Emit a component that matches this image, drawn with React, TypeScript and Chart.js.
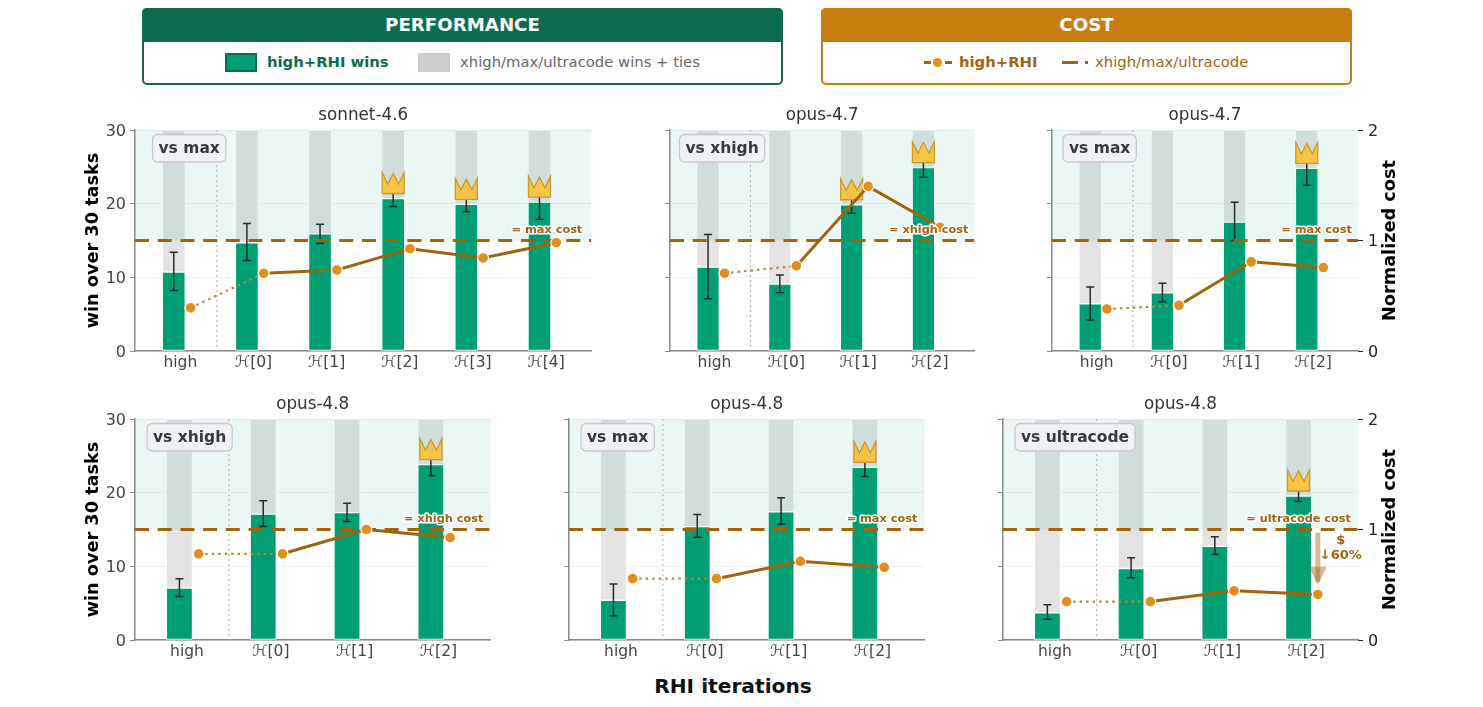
import React, { useEffect, useRef } from 'react';
import { Chart, registerables } from 'chart.js';
Chart.register(...registerables);

Chart.defaults.font.family = '"DejaVu Sans", sans-serif';

// values
const sonnetLabels = ['high', 'ℋ[0]', 'ℋ[1]', 'ℋ[2]', 'ℋ[3]', 'ℋ[4]'];
const opusLabels = ['high', 'ℋ[0]', 'ℋ[1]', 'ℋ[2]'];

const sonnetMaxWins = [10.7, 14.7, 15.9, 20.7, 19.9, 20.2];
const sonnetMaxErrLow = [8.2, 12.3, 14.6, 19.6, 18.9, 17.9];
const sonnetMaxErrHigh = [13.4, 17.3, 17.2, 21.8, 20.9, 22.5];
const sonnetMaxCost = [0.39, 0.703, 0.733, 0.926, 0.842, 0.98];
const sonnetMaxCrowns = [3, 4, 5];

const opus47XhighWins = [11.4, 9.1, 19.85, 24.9];
const opus47XhighErrLow = [7.1, 7.9, 18.7, 23.6];
const opus47XhighErrHigh = [15.8, 10.3, 21, 26.2];
const opus47XhighCost = [0.704, 0.77, 1.49, 1.12];
const opus47XhighCrowns = [2, 3];

const opus47MaxWins = [6.4, 7.9, 17.5, 24.8];
const opus47MaxErrLow = [4.2, 6.7, 15, 22.5];
const opus47MaxErrHigh = [8.7, 9.2, 20.2, 27.1];
const opus47MaxCost = [0.38, 0.414, 0.807, 0.755];
const opus47MaxCrowns = [3];

const opus48XhighWins = [7.05, 17.1, 17.3, 23.8];
const opus48XhighErrLow = [5.9, 15.4, 16.1, 22.3];
const opus48XhighErrHigh = [8.3, 18.9, 18.55, 25.3];
const opus48XhighCost = [0.78, 0.78, 1.0, 0.927];
const opus48XhighCrowns = [3];

const opus48MaxWins = [5.4, 15.4, 17.4, 23.45];
const opus48MaxErrLow = [3.3, 13.95, 15.7, 22.2];
const opus48MaxErrHigh = [7.6, 17.05, 19.3, 24.7];
const opus48MaxCost = [0.555, 0.555, 0.712, 0.658];
const opus48MaxCrowns = [3];

const opus48UltraWins = [3.7, 9.7, 12.7, 19.55];
const opus48UltraErrLow = [2.8, 8.45, 11.6, 18.8];
const opus48UltraErrHigh = [4.8, 11.15, 14, 20.3];
const opus48UltraCost = [0.348, 0.348, 0.445, 0.412];
const opus48UltraCrowns = [3];

const GREEN = '#009e73';
const DARK_GREEN = '#0d6b50';
const GOLD = '#c77d0e';
const BROWN = '#a0640f';
const ORANGE = '#e08e1e';

const TOP_ROW = 130;
const BOTTOM_ROW = 419;
const AREA_HEIGHT = 221;
const MARGIN_LEFT = 60;
const MARGIN_RIGHT = 60;
const MARGIN_TOP = 28;
const MARGIN_BOTTOM = 32;

const BAR_OFFSET = -0.09;
const COST_OFFSET = 0.14;
const X_PAD = 0.62;

interface PanelProps {
  title: string;
  badge: string;
  refName: string;
  labels: string[];
  wins: number[];
  errLow: number[];
  errHigh: number[];
  cost: number[];
  crowns: number[];
  left: number;
  top: number;
  width: number;
  badgeLeft: number;
  leftLabels?: boolean;
  rightAxis?: boolean;
  saving?: { from: number; to: number; text: string };
}

const Panel: React.FC<PanelProps> = (p) => {
  const canvasRef = useRef<HTMLCanvasElement>(null);
  // the extra 7px keeps the plot width right when the cost axis is hidden
  const canvasWidth = MARGIN_LEFT + p.width + (p.rightAxis ? MARGIN_RIGHT : 7);
  const canvasHeight = MARGIN_TOP + AREA_HEIGHT + MARGIN_BOTTOM;

  useEffect(() => {
    if (!canvasRef.current) return;
    const xMin = -X_PAD;
    const xMax = p.labels.length - 1 + X_PAD;
    const barWidth = (0.3 * p.width) / (xMax - xMin) + 1;

    const panelDecor = {
      id: 'panelDecor',
      // the band sits over the grey bars but under the green ones
      beforeDatasetDraw(chart: any, args: any) {
        if (args.index !== 1) return;
        const { ctx, chartArea, scales } = chart;
        const y15 = scales.y.getPixelForValue(15);
        ctx.save();
        ctx.fillStyle = 'rgba(0, 158, 115, 0.08)';
        ctx.fillRect(chartArea.left, chartArea.top, chartArea.width, y15 - chartArea.top);
        const sepX = scales.x.getPixelForValue(0.5);
        ctx.strokeStyle = '#aaaaaa';
        ctx.lineWidth = 1;
        ctx.setLineDash([2, 3]);
        ctx.beginPath();
        ctx.moveTo(sepX, chartArea.top);
        ctx.lineTo(sepX, chartArea.bottom);
        ctx.stroke();
        ctx.restore();
      },
      afterDatasetDraw(chart: any, args: any) {
        if (args.index !== 1) return;
        const { ctx, scales } = chart;
        ctx.save();
        p.wins.forEach((_, i) => {
          const x = scales.x.getPixelForValue(i + BAR_OFFSET);
          const lo = scales.y.getPixelForValue(p.errLow[i]);
          const hi = scales.y.getPixelForValue(p.errHigh[i]);
          ctx.strokeStyle = '#2b2b2b';
          ctx.lineWidth = 1.5;
          ctx.beginPath();
          ctx.moveTo(x, lo);
          ctx.lineTo(x, hi);
          ctx.moveTo(x - 4, lo);
          ctx.lineTo(x + 4, lo);
          ctx.moveTo(x - 4, hi);
          ctx.lineTo(x + 4, hi);
          ctx.stroke();
        });
        p.crowns.forEach((i) => {
          const x = scales.x.getPixelForValue(i + BAR_OFFSET);
          const b = scales.y.getPixelForValue(p.wins[i]) - 5;
          ctx.fillStyle = '#f6c544';
          ctx.strokeStyle = '#c99a2e';
          ctx.lineWidth = 1.3;
          ctx.beginPath();
          ctx.moveTo(x - 11, b);
          ctx.lineTo(x - 11, b - 21);
          ctx.lineTo(x - 5.5, b - 9.5);
          ctx.lineTo(x, b - 20);
          ctx.lineTo(x + 5.5, b - 9.5);
          ctx.lineTo(x + 11, b - 21);
          ctx.lineTo(x + 11, b);
          ctx.closePath();
          ctx.fill();
          ctx.stroke();
        });
        ctx.restore();
      },
      afterDatasetsDraw(chart: any) {
        const { ctx, chartArea, scales } = chart;
        ctx.save();

        // saving arrow
        if (p.saving) {
          const x = scales.x.getPixelForValue(p.labels.length - 1 + COST_OFFSET);
          const y0 = scales.y2.getPixelForValue(p.saving.from);
          const y1 = scales.y2.getPixelForValue(p.saving.to);
          ctx.fillStyle = 'rgba(165, 101, 15, 0.45)';
          ctx.fillRect(x - 2.5, y0, 5, y1 - y0 - 3);
          ctx.beginPath();
          ctx.moveTo(x - 9, y1 - 18);
          ctx.lineTo(x + 9, y1 - 18);
          ctx.lineTo(x, y1);
          ctx.closePath();
          ctx.fill();
          ctx.fillStyle = BROWN;
          ctx.font = 'bold 13px "DejaVu Sans"';
          ctx.textAlign = 'center';
          ctx.textBaseline = 'middle';
          ctx.fillText('$', x + 23, y0 + 8);
          ctx.fillText(p.saving.text, x + 23, y0 + 23);
        }

        // reference line label
        const labelText = `= ${p.refName} cost`;
        ctx.font = 'bold 11.3px "DejaVu Sans"';
        ctx.textAlign = 'right';
        ctx.textBaseline = 'middle';
        const labelX = chartArea.left + 0.98 * chartArea.width;
        const labelY = scales.y2.getPixelForValue(1) - 10;
        ctx.lineJoin = 'round';
        ctx.strokeStyle = '#ffffff';
        ctx.lineWidth = 3;
        ctx.strokeText(labelText, labelX, labelY);
        ctx.fillStyle = BROWN;
        ctx.fillText(labelText, labelX, labelY);

        // vs badge
        ctx.font = 'bold 15.5px "DejaVu Sans"';
        ctx.textAlign = 'left';
        const badgeW = ctx.measureText(p.badge).width + 12;
        const badgeX = chartArea.left + p.badgeLeft;
        ctx.beginPath();
        ctx.roundRect(badgeX, chartArea.top + 4.5, badgeW, 27.5, 5);
        ctx.fillStyle = '#f0f1f4';
        ctx.fill();
        ctx.strokeStyle = '#c5c8cc';
        ctx.lineWidth = 1.3;
        ctx.stroke();
        ctx.fillStyle = '#333a44';
        ctx.fillText(p.badge, badgeX + 6, chartArea.top + 18.5);

        // side labels, both read bottom to top
        const midY = (chartArea.top + chartArea.bottom) / 2;
        ctx.fillStyle = '#000000';
        ctx.textAlign = 'center';
        ctx.font = 'bold 17.7px "DejaVu Sans"';
        if (p.leftLabels) {
          ctx.translate(chartArea.left - 41.5, midY);
          ctx.rotate(-Math.PI / 2);
          ctx.fillText('win over 30 tasks', 0, 0);
        }
        if (p.rightAxis) {
          ctx.translate(chartArea.right + 32.5, midY);
          ctx.rotate(-Math.PI / 2);
          ctx.fillText('Normalized cost', 0, 0);
        }
        ctx.restore();
      },
    };

    const chart = new Chart(canvasRef.current, {
      type: 'bar',
      data: {
        datasets: [
          {
            label: 'wins + ties',
            data: p.wins.map((w, i) => ({ x: i + BAR_OFFSET, y: [w, 30] })) as any,
            backgroundColor: '#e3e3e3',
            borderColor: '#ffffff',
            borderWidth: 1,
            borderSkipped: false,
            barThickness: barWidth,
            grouped: false,
            order: 5,
          },
          {
            label: 'high+RHI wins',
            data: p.wins.map((w, i) => ({ x: i + BAR_OFFSET, y: w })) as any,
            backgroundColor: GREEN,
            borderColor: '#ffffff',
            borderWidth: 1,
            borderSkipped: false,
            barThickness: barWidth,
            grouped: false,
            order: 4,
          },
          {
            type: 'line',
            label: 'reference cost',
            data: [{ x: xMin, y: 1 }, { x: xMax, y: 1 }] as any,
            yAxisID: 'y2',
            borderColor: BROWN,
            borderWidth: 3,
            borderDash: [14, 8.7],
            pointRadius: 0,
            order: 3,
          },
          {
            type: 'line',
            label: 'high+RHI cost',
            data: p.cost.map((c, i) => ({ x: i + COST_OFFSET, y: c })) as any,
            yAxisID: 'y2',
            borderColor: BROWN,
            borderWidth: 3,
            pointRadius: 5.4,
            pointBackgroundColor: ORANGE,
            pointBorderColor: '#ffffff',
            pointBorderWidth: 1.2,
            segment: {
              borderDash: (ctx: any) => (ctx.p0DataIndex === 0 ? [2.5, 4] : undefined),
              borderColor: (ctx: any) => (ctx.p0DataIndex === 0 ? '#b8863f' : undefined),
              borderWidth: (ctx: any) => (ctx.p0DataIndex === 0 ? 2.2 : undefined),
            },
            order: 2,
          },
        ],
      },
      options: {
        responsive: false,
        animation: false,
        devicePixelRatio: 1,
        layout: { padding: { right: p.rightAxis ? 0 : 4 } },
        scales: {
          x: {
            type: 'linear',
            offset: false,
            min: xMin,
            max: xMax,
            afterFit: (s: any) => { s.height = MARGIN_BOTTOM; },
            grid: { drawOnChartArea: false, drawTicks: false },
            border: { color: '#888888', width: 1.5 },
            ticks: {
              stepSize: 1,
              includeBounds: false,
              autoSkip: false,
              maxRotation: 0,
              padding: 3,
              color: '#444444',
              font: { size: 15.5 },
              callback: (v: any) => p.labels[v],
            },
          },
          y: {
            min: 0,
            max: 30,
            afterFit: (s: any) => { s.width = MARGIN_LEFT; },
            grid: { color: '#f1f1f1', tickColor: '#888888', tickLength: 5 },
            border: { color: '#888888', width: 1.5 },
            ticks: { stepSize: 10, display: !!p.leftLabels, padding: 4, labelOffset: 1.5, color: '#444444', font: { size: 16 } },
          },
          y2: {
            display: !!p.rightAxis,
            position: 'right',
            min: 0,
            max: 2,
            afterFit: (s: any) => { if (p.rightAxis) s.width = MARGIN_RIGHT; },
            grid: { drawOnChartArea: false, tickColor: '#222222', tickLength: 5 },
            border: { display: false },
            ticks: { stepSize: 1, padding: 5, labelOffset: 1.5, color: '#222222', font: { size: 16 } },
          },
        },
        plugins: {
          legend: { display: false },
          tooltip: { enabled: false },
          title: {
            display: true,
            fullSize: false,
            text: p.title,
            color: '#333333',
            font: { size: 16.8, weight: 'normal', lineHeight: '20px' },
            padding: { top: 4, bottom: 4 },
          },
        },
      } as any,
      plugins: [panelDecor],
    });

    return () => chart.destroy();
  }, []);

  return (
    <canvas
      ref={canvasRef}
      width={canvasWidth}
      height={canvasHeight}
      style={{ position: 'absolute', left: p.left - MARGIN_LEFT, top: p.top - MARGIN_TOP, width: canvasWidth, height: canvasHeight }}
    />
  );
};

const legendBox = (left: number, width: number, color: string): React.CSSProperties => ({
  position: 'absolute',
  left,
  top: 8,
  width,
  height: 77,
  boxSizing: 'border-box',
  border: `2px solid ${color}`,
  borderRadius: 5,
  background: '#fff',
});

const legendHead = (color: string): React.CSSProperties => ({
  position: 'absolute',
  left: -2,
  right: -2,
  top: -2,
  height: 34,
  background: color,
  borderRadius: '5px 5px 0 0',
  color: '#fff',
  fontWeight: 'bold',
  fontSize: 18.2,
  lineHeight: '34px',
  textAlign: 'center',
});

const legendText = (x: number, color: string, bold: boolean): React.CSSProperties => ({
  position: 'absolute',
  left: x,
  top: 52,
  color,
  fontWeight: bold ? 'bold' : 'normal',
  fontSize: 14.8,
  lineHeight: '20px',
  whiteSpace: 'nowrap',
});

const block = (x: number, y: number, w: number, h: number, bg: string, extra?: React.CSSProperties): React.CSSProperties => ({
  position: 'absolute',
  left: x,
  top: y,
  width: w,
  height: h,
  background: bg,
  boxSizing: 'border-box',
  ...extra,
});

const App: React.FC = () => {
  return (
    <div style={{ position: 'fixed', left: 0, top: 0, width: 1483, height: 707, background: '#fff', overflow: 'hidden', fontFamily: '"DejaVu Sans", sans-serif' }}>
      <div style={legendBox(142, 641, DARK_GREEN)}><div style={legendHead(DARK_GREEN)}>PERFORMANCE</div></div>
      <div style={block(225, 53, 32, 19, GREEN, { border: `2px solid ${DARK_GREEN}` })} />
      <div style={legendText(267, DARK_GREEN, true)}>high+RHI wins</div>
      <div style={block(418, 53, 32, 19, '#cccccc')} />
      <div style={legendText(460, '#666666', false)}>xhigh/max/ultracode wins + ties</div>

      <div style={legendBox(821, 531, GOLD)}><div style={legendHead(GOLD)}>COST</div></div>
      <div style={block(924, 61, 7, 3, BROWN)} />
      <div style={block(945, 61, 7, 3, BROWN)} />
      <div style={block(933, 58, 9, 9, ORANGE, { borderRadius: '50%' })} />
      <div style={legendText(959, BROWN, true)}>high+RHI</div>
      <div style={block(1062, 60.5, 16, 3.5, BROWN)} />
      <div style={block(1085, 60.5, 2.5, 3.5, BROWN)} />
      <div style={legendText(1095, BROWN, false)}>xhigh/max/ultracode</div>

      <Panel title="sonnet-4.6" badge="vs max" refName="max" labels={sonnetLabels} wins={sonnetMaxWins} errLow={sonnetMaxErrLow} errHigh={sonnetMaxErrHigh} cost={sonnetMaxCost} crowns={sonnetMaxCrowns} left={135} top={TOP_ROW} width={456} badgeLeft={17.5} leftLabels />
      <Panel title="opus-4.7" badge="vs xhigh" refName="xhigh" labels={opusLabels} wins={opus47XhighWins} errLow={opus47XhighErrLow} errHigh={opus47XhighErrHigh} cost={opus47XhighCost} crowns={opus47XhighCrowns} left={670} top={TOP_ROW} width={304} badgeLeft={9.5} />
      <Panel title="opus-4.7" badge="vs max" refName="max" labels={opusLabels} wins={opus47MaxWins} errLow={opus47MaxErrLow} errHigh={opus47MaxErrHigh} cost={opus47MaxCost} crowns={opus47MaxCrowns} left={1052} top={TOP_ROW} width={306} badgeLeft={11} rightAxis />
      <Panel title="opus-4.8" badge="vs xhigh" refName="xhigh" labels={opusLabels} wins={opus48XhighWins} errLow={opus48XhighErrLow} errHigh={opus48XhighErrHigh} cost={opus48XhighCost} crowns={opus48XhighCrowns} left={135} top={BOTTOM_ROW} width={355} badgeLeft={12} leftLabels />
      <Panel title="opus-4.8" badge="vs max" refName="max" labels={opusLabels} wins={opus48MaxWins} errLow={opus48MaxErrLow} errHigh={opus48MaxErrHigh} cost={opus48MaxCost} crowns={opus48MaxCrowns} left={569} top={BOTTOM_ROW} width={355} badgeLeft={12} />
      <Panel title="opus-4.8" badge="vs ultracode" refName="ultracode" labels={opusLabels} wins={opus48UltraWins} errLow={opus48UltraErrLow} errHigh={opus48UltraErrHigh} cost={opus48UltraCost} crowns={opus48UltraCrowns} left={1003} top={BOTTOM_ROW} width={355} badgeLeft={12} rightAxis saving={{ from: 0.97, to: 0.5, text: '↓60%' }} />

      <div style={{ position: 'absolute', left: 533, width: 400, top: 674, textAlign: 'center', fontWeight: 'bold', fontSize: 20.2, lineHeight: '24px', color: '#111' }}>RHI iterations</div>
    </div>
  );
};

export default App;
